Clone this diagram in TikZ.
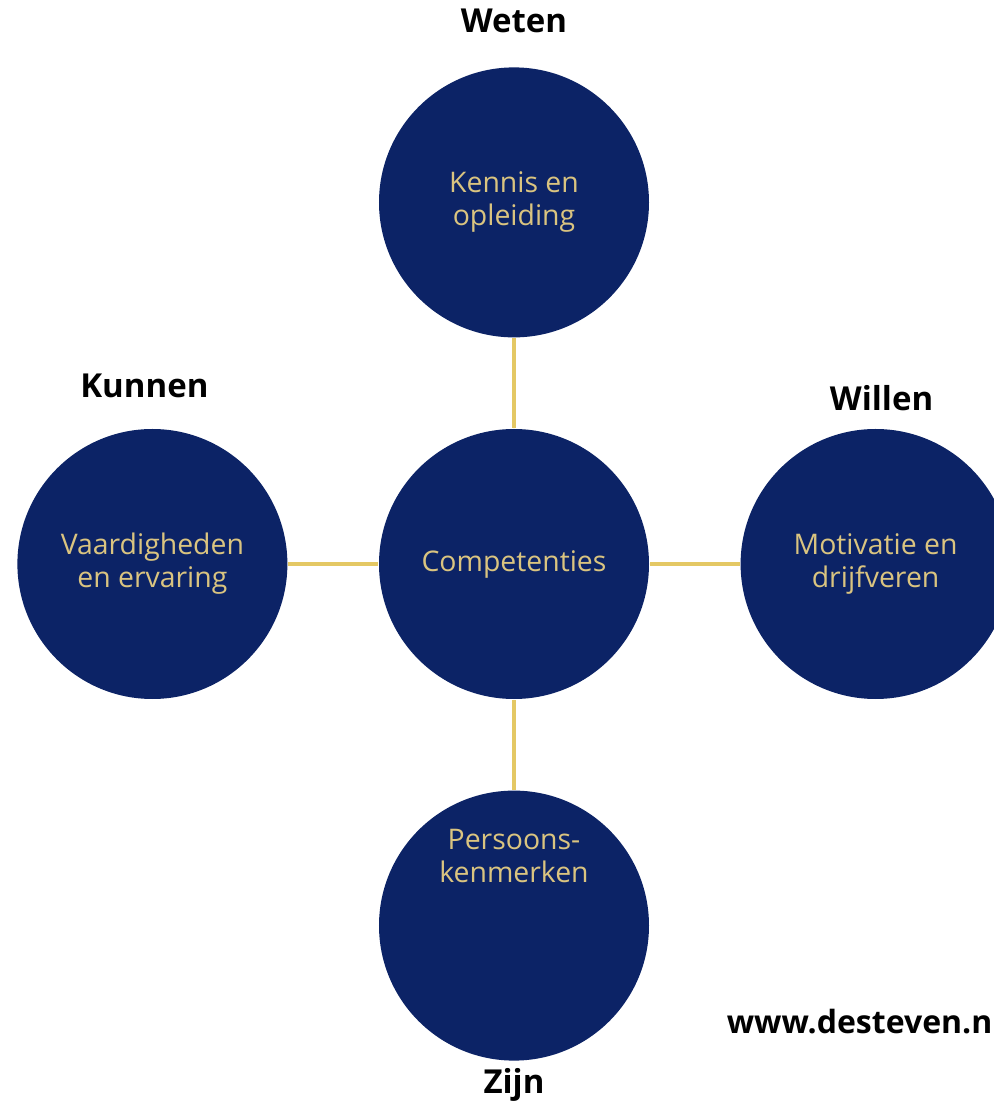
\documentclass[tikz,border=0pt]{standalone}
\usepackage{fontspec}
\setmainfont{Open Sans}
\usetikzlibrary{positioning}
\definecolor{navy}{RGB}{12,35,102}
\definecolor{linegold}{RGB}{228,200,100}
\definecolor{textgold}{RGB}{218,196,128}

\begin{document}
\begin{tikzpicture}[node distance=45pt,
                thick,main node/.style={circle,fill=navy,minimum size=135pt,inner sep=0pt},
                circle text/.style={align=center,text=textgold,inner sep=0pt,font=\fontsize{14.2}{16.5}\selectfont},
                word node/.style={inner sep=0pt,font=\fontsize{16.5}{19}\selectfont\bfseries}]
                \useasboundingbox (-257pt,282pt) rectangle (240pt,-269pt);
                \node[main node,circle text] (0) {Competenties};
                \node[main node,circle text] (1) [above=of 0] {Kennis en\\opleiding};
                \node[main node,circle text] (2) [left=of 0] {Vaardigheden\\en ervaring};
                \node[main node,circle text] (3) [right=of 0] {Motivatie en\\drijfveren};
                \node[main node] (4) [below=of 0] {};
                \node[circle text] (9) at ([yshift=35pt]4.center) {Persoons-\\kenmerken};

                \node[word node] (5) [above=16.5pt of 1] {Weten};
                \node[word node] (6) [above=15pt of 2,xshift=-4pt] {Kunnen};
                \node[word node] (7) [above=8.5pt of 3,xshift=3pt] {Willen};
                \node[word node] (8) [below=3pt of 4] {Zijn};
                \node[word node,font=\fontsize{16}{19}\selectfont\bfseries,anchor=base west] (10) at (106pt,-234.5pt) {www.desteven.nl};

                \path[draw=linegold,line width=1.6pt]
                (1) edge (0)
                (2) edge (0)
                (0) edge (3)
                (0) edge (4)
                ;
                \end{tikzpicture}
\end{document}
